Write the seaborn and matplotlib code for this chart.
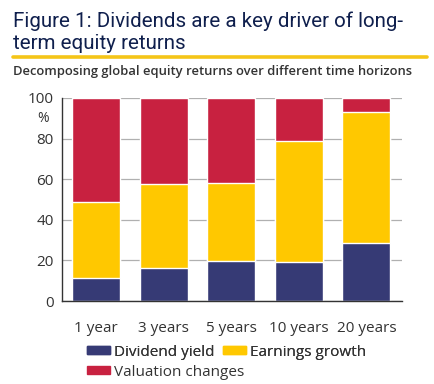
import pandas as pd
import numpy as np
import seaborn as sns
import matplotlib.pyplot as plt
from matplotlib.patches import Patch

horizons = ["1 year", "3 years", "5 years", "10 years", "20 years"]
dividend_yield = [11.5, 16.3, 19.8, 19.4, 28.6]
earnings_growth = [37.5, 41.2, 38.4, 59.4, 64.4]
valuation_changes = [51.0, 42.5, 41.8, 21.2, 7.0]

navy = "#363a75"
yellow = "#ffc800"
red = "#c82140"
title_col = "#0f1f4d"

df = pd.DataFrame({
    "horizon": horizons,
    "div": dividend_yield,
    "earn": earnings_growth,
    "val": valuation_changes,
})
df["top_earn"] = df["div"] + df["earn"]
df["top_val"] = df["top_earn"] + df["val"]

sns.set_style("white")
plt.rcParams["font.family"] = ["Open Sans", "DejaVu Sans"]

fig = plt.figure(figsize=(4.35, 3.84), dpi=100)
ax = fig.add_axes([0.1425, 0.216, 0.782, 0.529])

# stacked by layering cumulative totals
for col, c in [("top_val", red), ("top_earn", yellow), ("div", navy)]:
    sns.barplot(data=df, x="horizon", y=col, color=c, width=0.71,
                saturation=1, ax=ax, zorder=2)

ax.set_ylim(0, 100)
ax.set_xlim(-0.504, 4.53)
ax.set_yticks(np.arange(0, 101, 20))
ax.yaxis.grid(True, color="#b0b0b0", linewidth=0.9, zorder=0)
ax.set_axisbelow(True)
ax.set_xlabel("")
ax.set_ylabel("")
for s in ["top", "right"]:
    ax.spines[s].set_visible(False)
for s in ["left", "bottom"]:
    ax.spines[s].set_color("#333333")
    ax.spines[s].set_linewidth(1.0)
ax.tick_params(axis="both", length=0, labelsize=11, colors="#333333")
ax.tick_params(axis="x", pad=14)
ax.tick_params(axis="y", pad=6)
ax.text(-0.055, 0.9, "%", transform=ax.transAxes, ha="center", va="center",
        fontsize=10, color="#333333")

fig.text(0.03, 0.916, "Figure 1: Dividends are a key driver of long-\nterm equity returns",
         ha="left", va="center", fontsize=14.8, color=title_col, linespacing=1.25,
         family=["Roboto", "DejaVu Sans"])
fig.add_artist(plt.Line2D([0.03, 0.982], [0.851, 0.851], color="#f5c518",
                          linewidth=2.6, transform=fig.transFigure))
fig.text(0.03, 0.815, "Decomposing global equity returns over different time horizons",
         ha="left", va="center", fontsize=9.4, color="#333333", fontweight="semibold")

# two legends so the second row flows like the reference
leg1 = fig.legend(handles=[Patch(color=navy, label="Dividend yield"),
                           Patch(color=yellow, label="Earnings growth")],
                  ncol=2, loc="center left", bbox_to_anchor=(0.2, 0.083),
                  frameon=False, fontsize=11, handlelength=1.5, handleheight=0.45,
                  handletextpad=0.25, columnspacing=0.6,
                  borderaxespad=0, borderpad=0, labelcolor="#333333")
fig.legend(handles=[Patch(color=red, label="Valuation changes")],
           loc="center left", bbox_to_anchor=(0.2, 0.031),
           frameon=False, fontsize=11, handlelength=1.5, handleheight=0.45,
           handletextpad=0.25, borderaxespad=0, borderpad=0, labelcolor="#333333")
fig.add_artist(leg1)

fig.savefig("out.png", dpi=100)
